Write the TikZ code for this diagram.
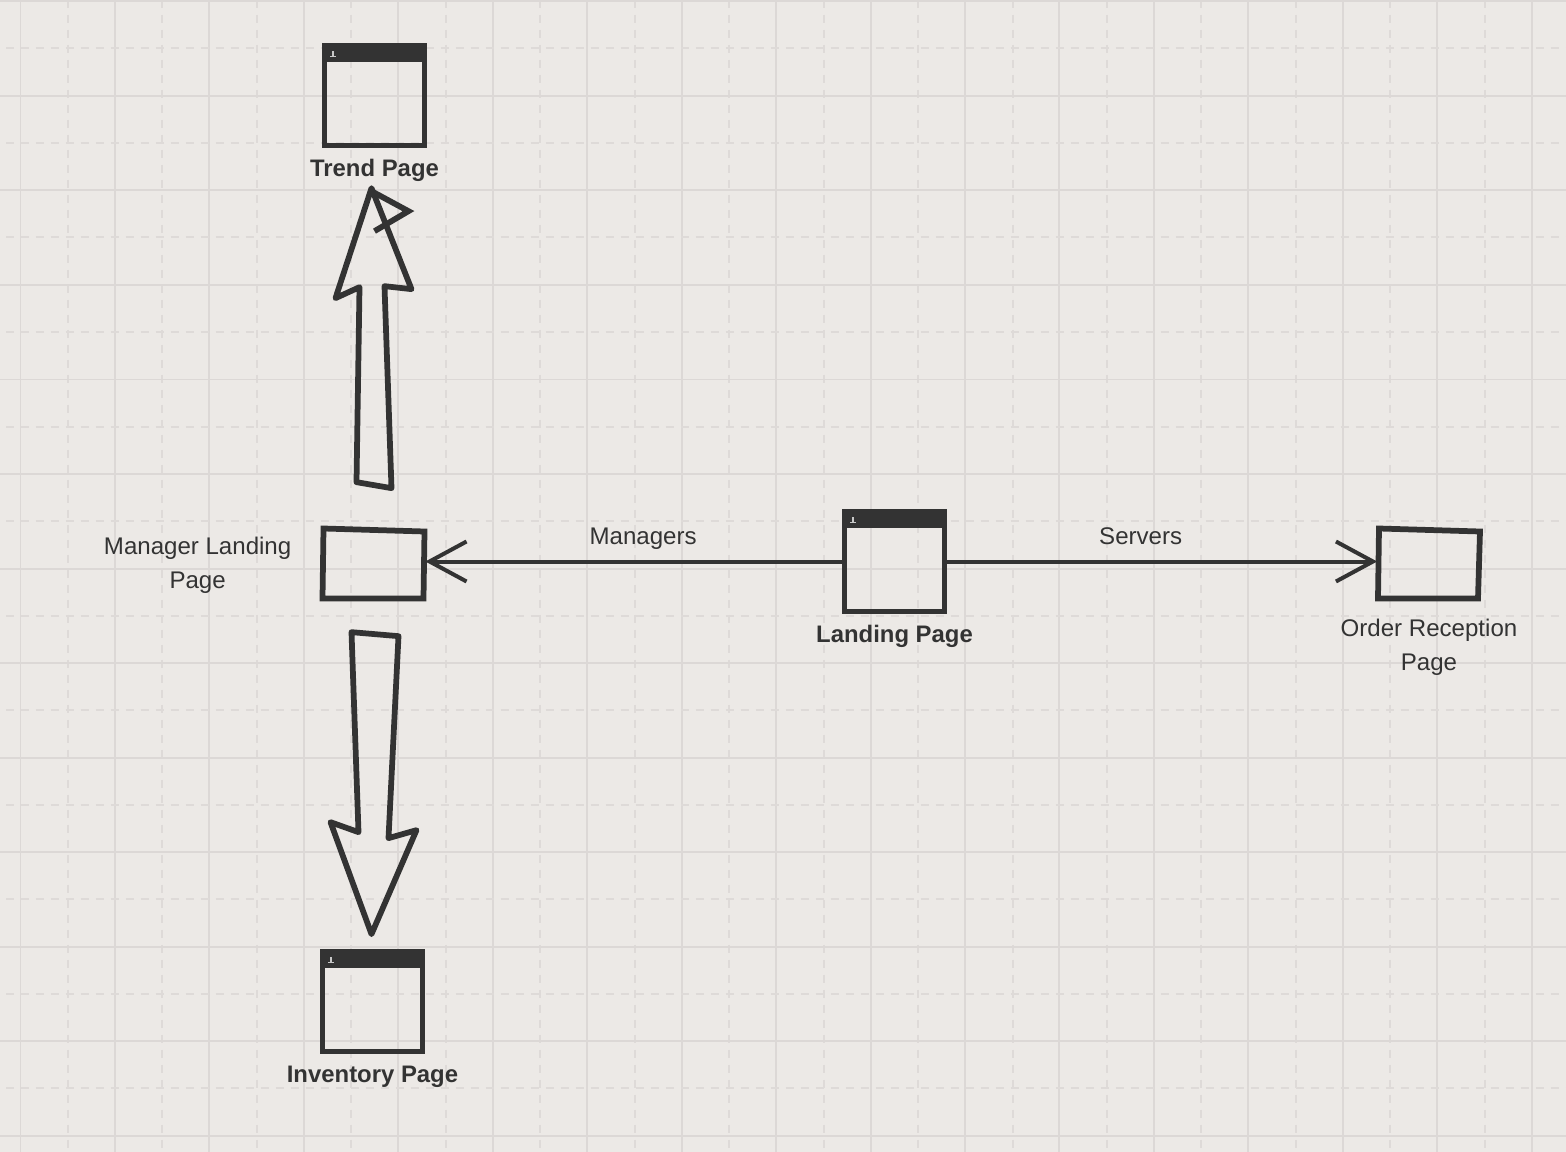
\documentclass[tikz,border=0pt]{standalone}
\usepackage{fontspec}
\setmainfont{Liberation Sans}
\usetikzlibrary{arrows.meta,positioning,calc}
\definecolor{ink}{HTML}{333333}
\definecolor{paper}{HTML}{ECE9E6}
\definecolor{gridl}{HTML}{DCD8D6}
\definecolor{gridd}{HTML}{DEDAD8}
\definecolor{iconc}{HTML}{C8C8C8}

\begin{document}
\begin{tikzpicture}[x=0.02cm, y=-0.02cm,
      window/.style={draw=ink, line width=0.11cm, minimum width=2cm, minimum height=2cm, inner sep=0pt,
        path picture={
          \fill[ink] (path picture bounding box.north west) rectangle ([yshift=-0.33cm]path picture bounding box.north east);
          \fill[iconc] ([shift={(0.1cm,-0.22cm)}]path picture bounding box.north west) rectangle ++(0.12cm,0.02cm);
          \fill[iconc] ([shift={(0.15cm,-0.2cm)}]path picture bounding box.north west) rectangle ++(0.03cm,0.09cm);}},
      plainbox/.style={minimum width=2.06cm, minimum height=1.42cm, inner sep=0pt},
      pagetxt/.style={font=\fontsize{13.7pt}{19.35pt}\selectfont, text=ink, align=center, inner sep=0pt},
      pagebold/.style={font=\fontsize{13.6pt}{19.35pt}\selectfont\bfseries, text=ink, align=center, inner sep=0pt},
      edgetxt/.style={font=\fontsize{13.7pt}{19.35pt}\selectfont, text=ink, inner sep=0pt, anchor=base, yshift=0.34cm},
      arr/.style={-{Straight Barb[length=0.74cm, width=0.8cm, line width=0.08cm]}, line width=0.08cm, color=ink},
      fatarr/.style={draw=ink, line width=0.115cm, line join=round},
      sketch/.style={draw=ink, line width=0.115cm}]
    \useasboundingbox (0,0) rectangle (1566,1152);
    \fill[paper] (0,0) rectangle (1566,1152);
    % grid
    \foreach \i in {0,...,16} {
      \draw[gridl, line width=0.04cm] ({20.5+94.45*\i},0) -- ({20.5+94.45*\i},1152);
      \draw[gridd, line width=0.04cm, dash pattern=on 0.16cm off 0.14cm] ({68+94.45*\i},0) -- ({68+94.45*\i},1152);
    }
    \foreach \i in {0,...,12} {
      \draw[gridl, line width=0.04cm] (0,{1.5+94.5*\i}) -- (1566,{1.5+94.5*\i});
      \draw[gridd, line width=0.04cm, dash pattern=on 0.16cm off 0.14cm] (6,{48.5+94.5*\i}) -- (1566,{48.5+94.5*\i});
    }
    % pages
    \node[window] (trend) at (374.5,95.5) {};
    \node[window] (landing) at (894.5,561.5) {};
    \node[window] (inventory) at (372.5,1001.5) {};
    \node[plainbox] (manager) at (373.5,561.5) {};
    \node[plainbox] (reception) at (1429,561.5) {};
    \draw[sketch] ([shift={(-50,-33)}]manager.center) -- ++(101,3) -- ++(-1,67) -- ++(-101,0) -- cycle;
    \draw[sketch] ([shift={(-50,-33)}]reception.center) -- ++(101,3) -- ++(-2,67) -- ++(-100,0) -- cycle;
    % labels
    \node[pagebold, below=0.22cm of trend] (trendtxt) {Trend Page};
    \node[pagebold, below=0.22cm of landing] (landingtxt) {Landing Page};
    \node[pagebold, below=0.22cm of inventory] (inventorytxt) {Inventory Page};
    \node[pagetxt, left=0.6cm of manager, yshift=-0.07cm] (managertxt) {Manager Landing\\Page};
    \node[pagetxt, below=0.42cm of reception] (receptiontxt) {Order Reception\\Page};
    % connectors
    \draw[arr] (landing) -- node[edgetxt, pos=0.477] (managerslbl) {Managers} (manager);
    \draw[arr] (landing) -- node[edgetxt, pos=0.45] (serverslbl) {Servers} (reception);
    \draw[fatarr] ([shift={(-17,-43.5)}]manager.north) -- ++(35,6) -- ++(-7,-202) -- ++(27,3) -- ++(-40,-101) -- ++(-36,110) -- ++(24,-11) -- cycle;
    \draw[sketch] ([shift={(-2,-334.5)}]manager.north) -- ++(37,20) -- ++(-34,20);
    \draw[fatarr] ([shift={(-22,106.5)}]manager.north) -- ++(47,4) -- ++(-10,202) -- ++(28,-8) -- ++(-45,104) -- ++(-41,-112) -- ++(28,10) -- cycle;
  \end{tikzpicture}
\end{document}
